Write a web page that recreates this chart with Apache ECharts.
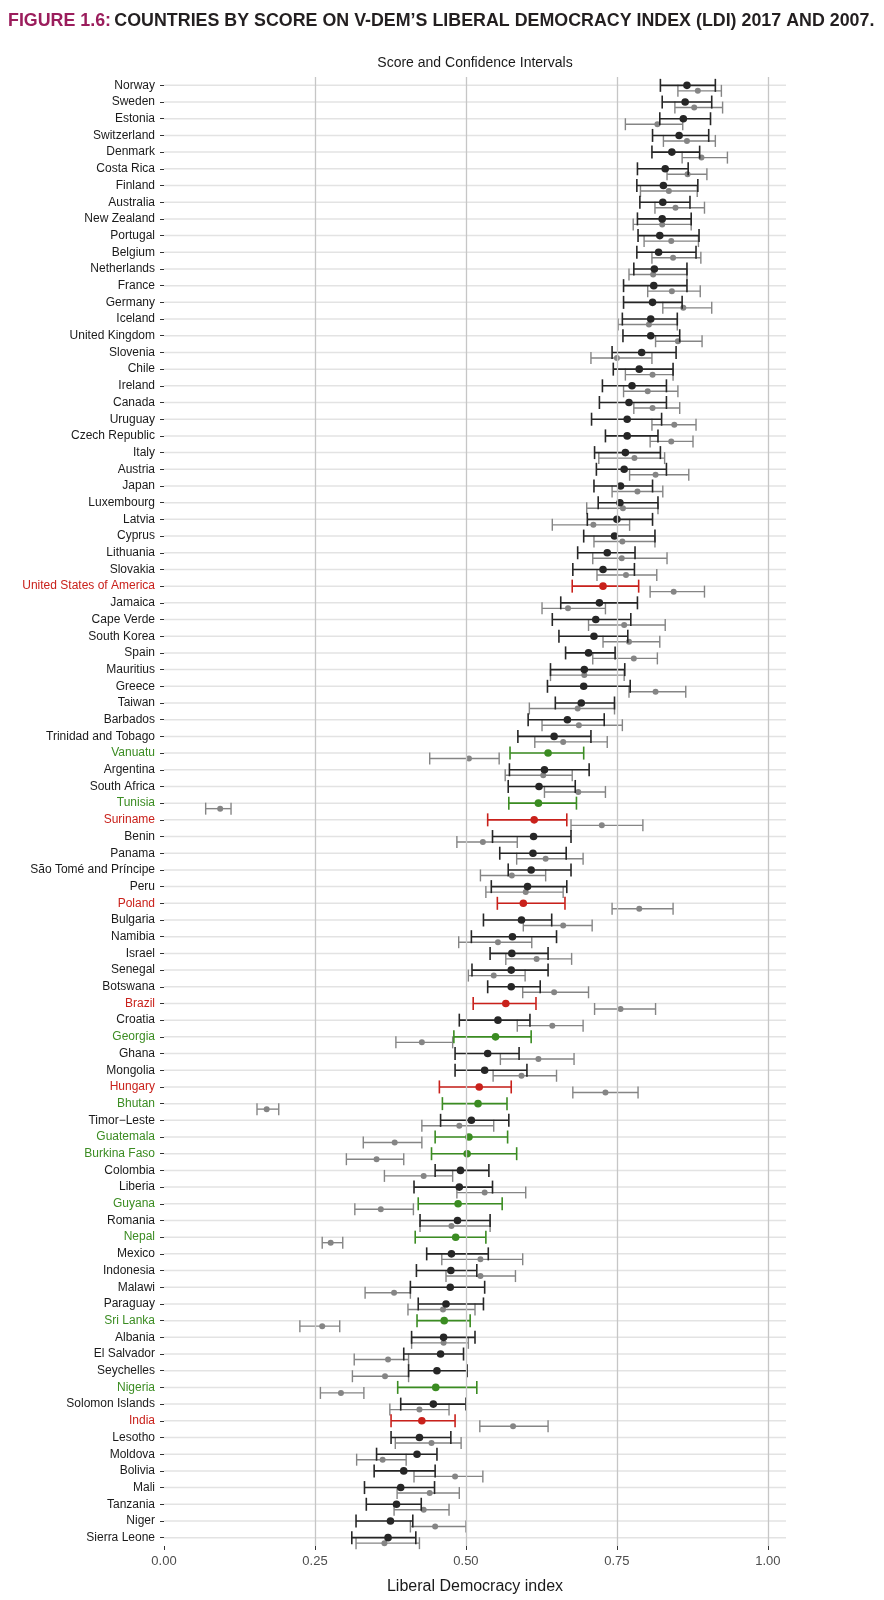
<!DOCTYPE html>
<html><head><meta charset="utf-8">
<script src="https://cdn.jsdelivr.net/npm/echarts@6/dist/echarts.min.js"></script>
<style>html,body{margin:0;padding:0;background:#fff}#c{width:884px;height:1600px}</style>
</head><body><div id="c"></div><script>
const countries = ["Norway","Sweden","Estonia","Switzerland","Denmark","Costa Rica","Finland","Australia","New Zealand","Portugal",
"Belgium","Netherlands","France","Germany","Iceland","United Kingdom","Slovenia","Chile","Ireland","Canada",
"Uruguay","Czech Republic","Italy","Austria","Japan","Luxembourg","Latvia","Cyprus","Lithuania","Slovakia",
"United States of America","Jamaica","Cape Verde","South Korea","Spain","Mauritius","Greece","Taiwan","Barbados","Trinidad and Tobago",
"Vanuatu","Argentina","South Africa","Tunisia","Suriname","Benin","Panama","São Tomé and Príncipe","Peru","Poland",
"Bulgaria","Namibia","Israel","Senegal","Botswana","Brazil","Croatia","Georgia","Ghana","Mongolia",
"Hungary","Bhutan","Timor−Leste","Guatemala","Burkina Faso","Colombia","Liberia","Guyana","Romania","Nepal",
"Mexico","Indonesia","Malawi","Paraguay","Sri Lanka","Albania","El Salvador","Seychelles","Nigeria","Solomon Islands",
"India","Lesotho","Moldova","Bolivia","Mali","Tanzania","Niger","Sierra Leone"];

const ldi2017 = [0.866,0.863,0.860,0.853,0.841,0.830,0.827,0.826,0.825,0.821,
0.819,0.812,0.811,0.809,0.806,0.806,0.791,0.787,0.775,0.770,
0.767,0.767,0.764,0.762,0.756,0.755,0.750,0.746,0.734,0.727,
0.727,0.721,0.715,0.712,0.703,0.696,0.695,0.691,0.668,0.646,
0.636,0.630,0.621,0.620,0.613,0.612,0.611,0.608,0.602,0.595,
0.592,0.577,0.576,0.575,0.575,0.566,0.553,0.549,0.536,0.531,
0.522,0.520,0.509,0.505,0.502,0.491,0.489,0.487,0.486,0.483,
0.476,0.475,0.474,0.467,0.464,0.463,0.458,0.452,0.450,0.446,
0.427,0.423,0.419,0.397,0.392,0.385,0.375,0.371];
const lo2017 = [0.822,0.825,0.821,0.809,0.808,0.784,0.783,0.788,0.784,0.785,
0.783,0.778,0.761,0.761,0.759,0.760,0.742,0.744,0.726,0.721,
0.708,0.731,0.713,0.716,0.712,0.719,0.701,0.695,0.685,0.677,
0.676,0.657,0.643,0.654,0.665,0.640,0.635,0.648,0.603,0.586,
0.573,0.572,0.570,0.571,0.536,0.544,0.556,0.570,0.542,0.552,
0.529,0.509,0.540,0.510,0.536,0.512,0.489,0.480,0.482,0.482,
0.456,0.461,0.458,0.449,0.443,0.449,0.414,0.421,0.424,0.416,
0.435,0.418,0.408,0.421,0.419,0.410,0.397,0.405,0.387,0.392,
0.376,0.376,0.352,0.348,0.332,0.335,0.318,0.311];
const hi2017 = [0.913,0.907,0.905,0.902,0.887,0.868,0.884,0.871,0.873,0.886,
0.881,0.866,0.866,0.858,0.850,0.854,0.848,0.843,0.832,0.832,
0.824,0.818,0.822,0.832,0.809,0.818,0.809,0.813,0.780,0.779,
0.786,0.784,0.773,0.768,0.747,0.763,0.772,0.746,0.729,0.707,
0.695,0.704,0.681,0.683,0.667,0.674,0.666,0.674,0.667,0.664,
0.642,0.650,0.636,0.636,0.623,0.616,0.606,0.608,0.588,0.601,
0.575,0.568,0.571,0.569,0.584,0.538,0.544,0.560,0.540,0.533,
0.537,0.518,0.531,0.529,0.507,0.515,0.496,0.502,0.518,0.500,
0.482,0.475,0.452,0.449,0.448,0.426,0.412,0.417];

const ldi2007 = [0.884,0.878,0.817,0.866,0.890,0.867,0.836,0.847,0.825,0.840,
0.843,0.810,0.841,0.860,0.803,0.851,0.750,0.809,0.801,0.809,
0.845,0.840,0.779,0.814,0.784,0.760,0.711,0.759,0.758,0.765,
0.844,0.669,0.762,0.770,0.778,0.696,0.814,0.685,0.687,0.661,
0.505,0.628,0.686,0.093,0.725,0.528,0.632,0.576,0.599,0.787,
0.661,0.553,0.617,0.546,0.646,0.756,0.643,0.427,0.620,0.592,
0.731,0.170,0.489,0.382,0.352,0.430,0.531,0.359,0.476,0.276,
0.524,0.524,0.381,0.462,0.262,0.463,0.371,0.366,0.293,0.423,
0.578,0.443,0.362,0.482,0.440,0.430,0.449,0.365];
const lo2007 = [0.851,0.846,0.764,0.827,0.858,0.833,0.789,0.813,0.777,0.795,
0.808,0.770,0.801,0.826,0.752,0.814,0.707,0.764,0.761,0.778,
0.808,0.805,0.720,0.771,0.742,0.700,0.643,0.712,0.710,0.717,
0.805,0.626,0.703,0.727,0.710,0.640,0.770,0.605,0.626,0.614,
0.440,0.565,0.630,0.069,0.674,0.485,0.584,0.524,0.533,0.742,
0.595,0.488,0.566,0.504,0.594,0.713,0.585,0.384,0.557,0.545,
0.677,0.154,0.427,0.330,0.302,0.365,0.485,0.316,0.424,0.262,
0.460,0.467,0.333,0.404,0.225,0.410,0.315,0.312,0.259,0.374,
0.523,0.383,0.319,0.414,0.386,0.381,0.408,0.318];
const hi2007 = [0.923,0.925,0.859,0.913,0.933,0.899,0.883,0.895,0.873,0.885,
0.889,0.866,0.888,0.907,0.850,0.891,0.808,0.843,0.851,0.854,
0.881,0.876,0.829,0.869,0.826,0.818,0.771,0.813,0.833,0.816,
0.895,0.731,0.830,0.821,0.817,0.762,0.864,0.746,0.759,0.734,
0.555,0.676,0.731,0.111,0.793,0.585,0.694,0.632,0.661,0.843,
0.709,0.609,0.675,0.598,0.703,0.814,0.694,0.478,0.679,0.650,
0.785,0.190,0.546,0.427,0.397,0.478,0.599,0.413,0.540,0.296,
0.594,0.582,0.408,0.515,0.291,0.504,0.405,0.405,0.331,0.472,
0.636,0.492,0.401,0.528,0.489,0.472,0.500,0.423];

const declined = ["United States of America","Suriname","Poland","Brazil","Hungary","India"];
const improved = ["Vanuatu","Tunisia","Georgia","Bhutan","Guatemala","Burkina Faso","Guyana","Nepal","Sri Lanka","Nigeria"];
const xTicks = [0, 0.25, 0.5, 0.75, 1];
const gridTicks = [0.25, 0.5, 0.75, 1];

const RED = '#c9211b', GREEN = '#3b8c22', DARK = '#262626', GREY = '#858585';
function statusColor(name, base) {
  if (declined.includes(name)) return RED;
  if (improved.includes(name)) return GREEN;
  return base;
}

const FONT = '"Liberation Sans", Arial, sans-serif';
const titleText = "COUNTRIES BY SCORE ON V-DEM’S LIBERAL DEMOCRACY INDEX (LDI) 2017 AND 2007.";
const titleFont = 'bold 18px ' + FONT;
const cv = document.createElement('canvas').getContext('2d');
cv.font = titleFont;
const titleW = cv.measureText("FIGURE 1.6: " + titleText).width;
const titleScale = 868 / titleW;

function errRender(offset, capH, r, lw, base) {
  return function (params, api) {
    const idx = api.value(3);
    const yc = api.coord([0, idx])[1] + offset;
    const xl = api.coord([api.value(0), idx])[0];
    const xh = api.coord([api.value(1), idx])[0];
    const xv = api.coord([api.value(2), idx])[0];
    const c = base === GREY ? GREY : statusColor(countries[idx], base);
    const ls = {stroke: c, lineWidth: lw};
    return {type: 'group', children: [
      {type: 'line', shape: {x1: xl, y1: yc, x2: xh, y2: yc}, style: ls},
      {type: 'line', shape: {x1: xl, y1: yc - capH, x2: xl, y2: yc + capH}, style: ls},
      {type: 'line', shape: {x1: xh, y1: yc - capH, x2: xh, y2: yc + capH}, style: ls},
      {type: 'circle', shape: {cx: xv, cy: yc, r: r}, style: {fill: c}}
    ]};
  };
}

const chart = echarts.init(document.getElementById('c'), null, {renderer: 'canvas'});
chart.setOption({
  backgroundColor: '#fff',
  animation: false,
  textStyle: {fontFamily: FONT},
  graphic: [
    {type: 'text', x: 8, y: 21, scaleX: titleScale, style: {
      text: '{a|FIGURE 1.6:} {b|' + titleText + '}',
      verticalAlign: 'middle', textVerticalAlign: 'middle',
      rich: {
        a: {fill: '#9b1d5c', fontSize: 18, fontWeight: 'bold', fontFamily: FONT},
        b: {fill: '#231f20', fontSize: 18, fontWeight: 'bold', fontFamily: FONT}
      }
    }},
    {type: 'text', x: 475, y: 63, style: {
      text: 'Score and Confidence Intervals', fill: '#1a1a1a',
      font: '14px ' + FONT, align: 'center', textAlign: 'center',
      verticalAlign: 'middle', textVerticalAlign: 'middle'
    }}
  ],
  grid: {left: 164, right: 98, top: 77, bottom: 52, containLabel: false},
  xAxis: {
    type: 'value', min: 0, max: 1.03, interval: 0.25,
    splitLine: {show: false},
    axisLine: {show: false},
    axisTick: {show: true, length: 4, customValues: xTicks, lineStyle: {color: '#333', width: 1}},
    axisLabel: {customValues: xTicks, margin: 9, fontSize: 13, color: '#4d4d4d',
      formatter: v => xTicks.includes(v) ? v.toFixed(2) : ''},
    name: 'Liberal Democracy index', nameLocation: 'middle', nameGap: 33,
    nameTextStyle: {fontSize: 16, color: '#1a1a1a'}
  },
  yAxis: {
    type: 'category', data: countries, inverse: true,
    axisLine: {show: false},
    axisTick: {show: true, alignWithLabel: true, interval: 0, length: 4, lineStyle: {color: '#333', width: 1}},
    axisLabel: {interval: 0, margin: 9, fontSize: 12,
      color: (v) => statusColor(v, '#1a1a1a')},
    splitLine: {show: false}
  },
  series: [
    {
      type: 'custom', silent: true, z: 1,
      data: countries.map((c, i) => [0, i]),
      encode: {x: 0, y: 1},
      renderItem: function (params, api) {
        const cs = params.coordSys;
        const y = api.coord([0, api.value(1)])[1];
        return {type: 'line', shape: {x1: cs.x, y1: y, x2: cs.x + cs.width, y2: y},
          style: {stroke: '#e3e3e3', lineWidth: 1.5}};
      },
      markLine: {
        silent: true, symbol: 'none', label: {show: false},
        lineStyle: {color: '#c6c6c6', width: 1.3, type: 'solid'},
        data: gridTicks.map(v => ({xAxis: v}))
      }
    },
    {
      name: '2007', type: 'custom', z: 3,
      dimensions: ['lo', 'hi', 'v', 'row'],
      data: countries.map((c, i) => [lo2007[i], hi2007[i], ldi2007[i], i]),
      encode: {x: [0, 1, 2], y: 3},
      renderItem: errRender(5.5, 6, 3, 1.4, GREY)
    },
    {
      name: '2017', type: 'custom', z: 4,
      dimensions: ['lo', 'hi', 'v', 'row'],
      data: countries.map((c, i) => [lo2017[i], hi2017[i], ldi2017[i], i]),
      encode: {x: [0, 1, 2], y: 3},
      renderItem: errRender(0, 6.5, 3.8, 1.6, DARK)
    }
  ]
});
</script></body></html>
